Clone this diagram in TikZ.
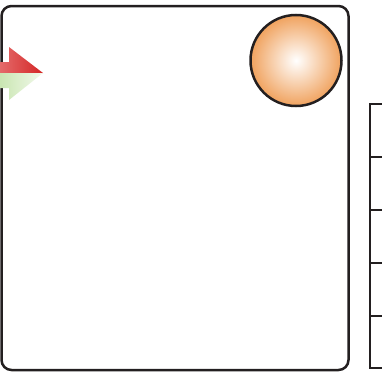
\documentclass[tikz,border=0pt]{standalone}

\begin{document}
\begin{tikzpicture}[x=1pt, y=-1pt]
    \definecolor{borderColour}{HTML}{231F20}
    \definecolor{orangeColour}{HTML}{F0A25E}
    \definecolor{redLight}{HTML}{E46A6A}
    \definecolor{redDark}{HTML}{D42626}
    \definecolor{greenLight}{HTML}{C9E6B2}
    \definecolor{greenPale}{HTML}{F3F9EC}

    \useasboundingbox (0,0) rectangle (382,372);

    % Pool
    \draw[borderColour, line width=2.5pt, rounded corners=10pt] (1.5,6) rectangle (348.5,370);

    % Lane box on the right
    \draw[borderColour, line width=2pt] (384,104) -- (370,104) -- (370,368) -- (384,368);
    \foreach \y in {157,209.5,262.5,315.5}
        \draw[borderColour, line width=2pt] (370,\y) -- (384,\y);

    % Start event
    \node[circle, draw=borderColour, line width=2.5pt, minimum size=91pt, inner sep=0pt,
          shading=radial, inner color=white, outer color=orangeColour] (startEvent) at (296,60.5) {};

    % Message arrows
    \coordinate (tip) at (43,73);
    \shade[left color=redLight, right color=redDark] (0,62) -- (9,62) -- (9,47) -- (tip) -- (0,73) -- cycle;
    \shade[left color=greenLight, right color=greenPale] (0,73) -- (tip) -- (9,100) -- (9,88) -- (0,88) -- cycle;

\end{tikzpicture}
\end{document}
